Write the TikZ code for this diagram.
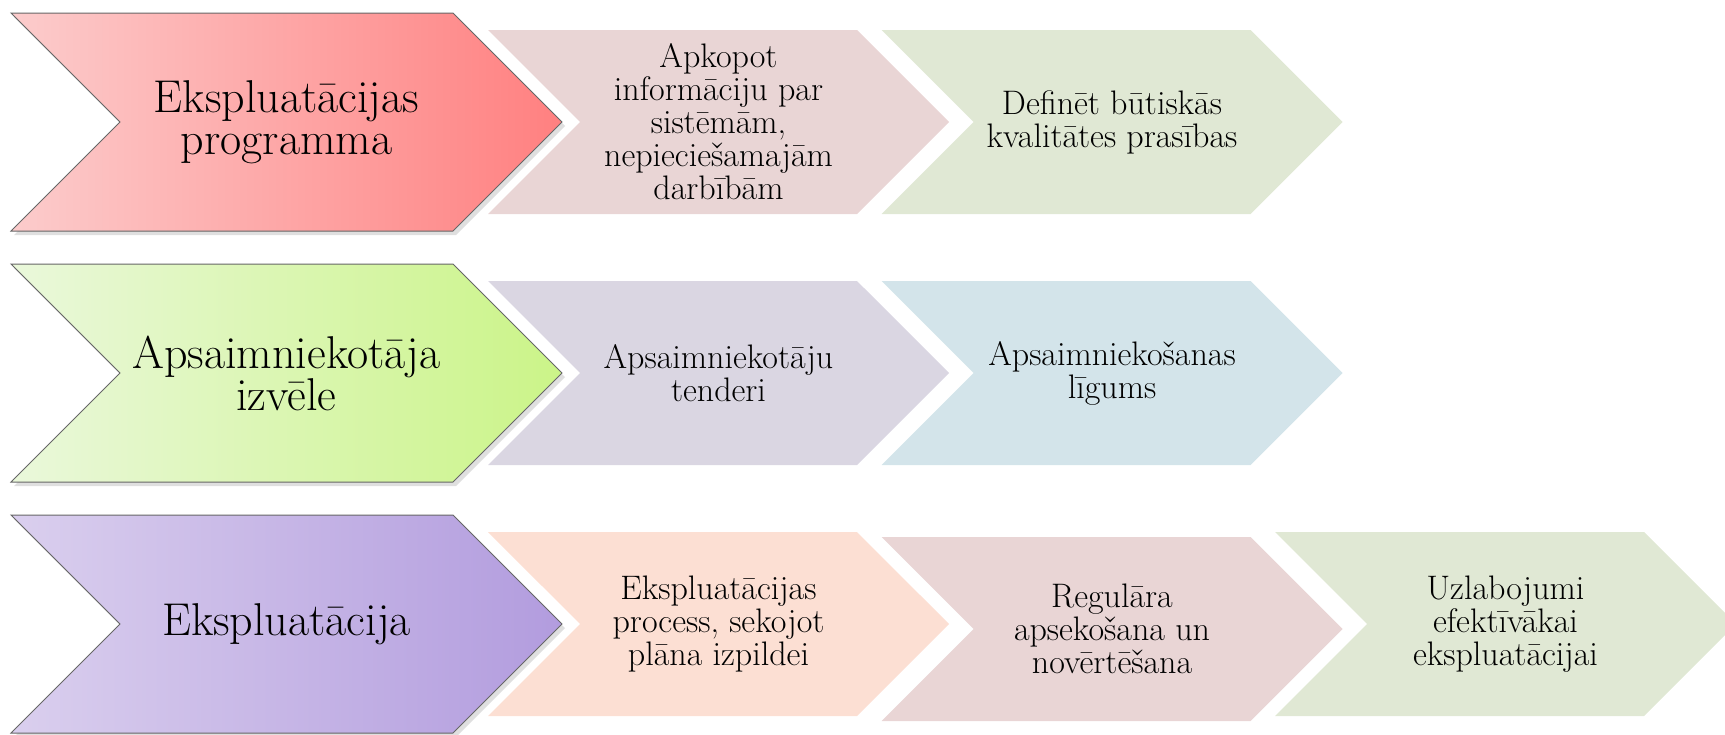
\documentclass[tikz,border=0pt]{standalone}
\usepackage{xcolor}
\usepackage{tikz}
\usetikzlibrary{shapes.symbols,shadows}

\definecolor{redlight}{RGB}{252,204,204}
\definecolor{reddark}{RGB}{255,128,128}
\definecolor{greenlight}{RGB}{234,248,219}
\definecolor{greendark}{RGB}{203,244,136}
\definecolor{violetlight}{RGB}{218,207,238}
\definecolor{violetdark}{RGB}{178,156,222}
\definecolor{rosefill}{RGB}{233,213,213}
\definecolor{sagefill}{RGB}{224,232,212}
\definecolor{lilacfill}{RGB}{218,214,226}
\definecolor{skyfill}{RGB}{211,228,234}
\definecolor{peachfill}{RGB}{252,223,211}

\tikzset{
  bigarrow/.style={signal, signal to=east, signal from=west, signal pointer angle=90,
    minimum width=551pt, minimum height=218pt, inner sep=0pt,
    draw=black!60, line width=1pt,
    drop shadow={opacity=0.25, shadow xshift=3pt, shadow yshift=-4pt},
    font=\fontsize{46}{42}\selectfont, align=center},
  smallarrow/.style={signal, signal to=east, signal from=west, signal pointer angle=90,
    minimum width=461pt, minimum height=184pt, inner sep=0pt,
    font=\fontsize{34}{33}\selectfont, align=center},
}

\begin{document}
\begin{tikzpicture}[x=1pt, y=-1pt, node distance=393.5pt]
    \useasboundingbox (0,0) rectangle (1725,734);

    % row 1
    \node (program) [bigarrow, left color=redlight, right color=reddark] at (286.5,122) {Ekspluatācijas\\programma};
    \node (collect) [smallarrow, fill=rosefill, right of=program, node distance=432pt] {Apkopot\\informāciju par\\sistēmām,\\nepieciešamajām\\darbībām};
    \node (quality) [smallarrow, fill=sagefill, right of=collect] {Definēt būtiskās\\kvalitātes prasības};

    % row 2
    \node (choice) [bigarrow, left color=greenlight, right color=greendark, below of=program, node distance=251pt] {Apsaimniekotāja\\izvēle};
    \node (tenders) [smallarrow, fill=lilacfill, right of=choice, node distance=432pt] {Apsaimniekotāju\\tenderi};
    \node (contract) [smallarrow, fill=skyfill, right of=tenders] {Apsaimniekošanas\\līgums};

    % row 3
    \node (operation) [bigarrow, left color=violetlight, right color=violetdark, below of=choice, node distance=251pt] {Ekspluatācija};
    \node (process) [smallarrow, fill=peachfill, right of=operation, node distance=432pt] {Ekspluatācijas\\process, sekojot\\plāna izpildei};
    \node (survey) [smallarrow, fill=rosefill, right of=process, yshift=-5pt] {Regulāra\\apsekošana un\\novērtēšana};
    \node (improve) [smallarrow, fill=sagefill, right of=survey, yshift=5pt] {Uzlabojumi\\efektīvākai\\ekspluatācijai};
\end{tikzpicture}
\end{document}
